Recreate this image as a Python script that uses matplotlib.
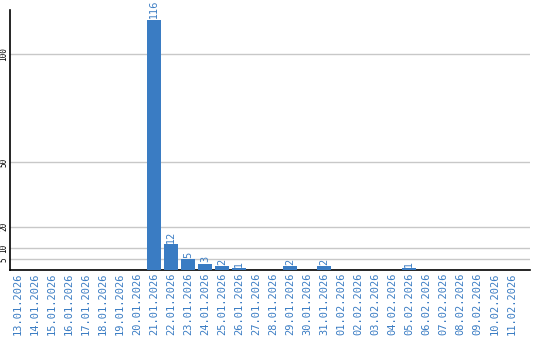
import matplotlib
matplotlib.use("Agg")
import matplotlib.pyplot as plt

dates = ["13.01.2026", "14.01.2026", "15.01.2026", "16.01.2026", "17.01.2026",
         "18.01.2026", "19.01.2026", "20.01.2026", "21.01.2026", "22.01.2026",
         "23.01.2026", "24.01.2026", "25.01.2026", "26.01.2026", "27.01.2026",
         "28.01.2026", "29.01.2026", "30.01.2026", "31.01.2026", "01.02.2026",
         "02.02.2026", "03.02.2026", "04.02.2026", "05.02.2026", "06.02.2026",
         "07.02.2026", "08.02.2026", "09.02.2026", "10.02.2026", "11.02.2026"]
counts = [0, 0, 0, 0, 0, 0, 0, 0, 116, 12, 5, 3, 2, 1, 0, 0, 2, 0, 2, 0,
          0, 0, 0, 1, 0, 0, 0, 0, 0, 0]
yticks = [5, 10, 20, 50, 100]

blue = "#3a7cc3"

fig = plt.figure(figsize=(5.4, 3.4), dpi=100)
ax = fig.add_axes([10 / 540, 70 / 340, 520 / 540, 260 / 340])

x = list(range(len(dates)))
ax.bar(x, counts, width=0.82, color=blue, zorder=3)
for xi, v in zip(x, counts):
    if v > 0:
        ax.annotate(str(v), (xi, v), xytext=(0, 0.8), textcoords="offset points",
                    rotation=90, ha="center", va="bottom", color=blue,
                    fontsize=7, family="DejaVu Sans", annotation_clip=False)

ax.set_xlim(-0.47, 30.1)
ax.set_ylim(0, 120.4)
ax.set_yticks(yticks)
ax.set_yticklabels([str(t) for t in yticks], rotation=90, va="center",
                   family="DejaVu Sans Mono", fontsize=5.5)
ax.set_xticks(x)
ax.set_xticklabels(dates, rotation=90, family="DejaVu Sans Mono", fontsize=7.5,
                   color=blue)
ax.tick_params(axis="x", length=0, pad=2)
ax.tick_params(axis="y", length=0, pad=1)
ax.grid(axis="y", color="#c8c8c8", linewidth=1, zorder=0)
for side in ["top", "right"]:
    ax.spines[side].set_visible(False)
for side in ["left", "bottom"]:
    ax.spines[side].set_color("black")
    ax.spines[side].set_linewidth(1.2)

fig.savefig("out.png", dpi=100)
